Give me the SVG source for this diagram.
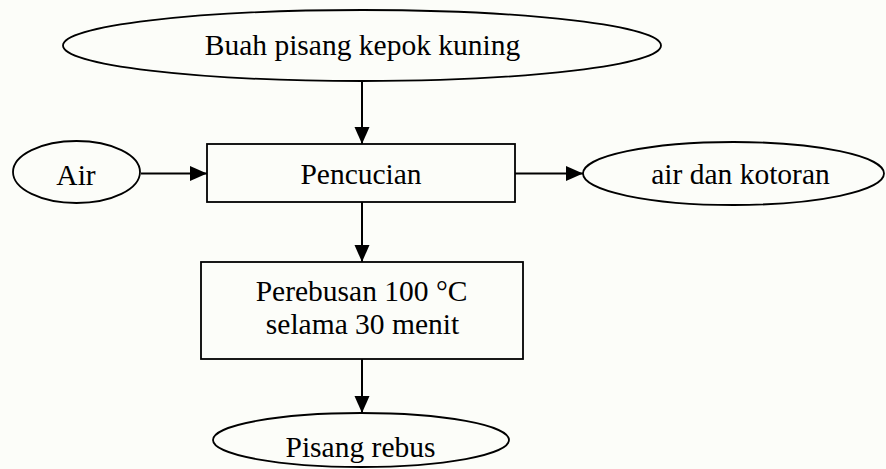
<svg xmlns="http://www.w3.org/2000/svg" width="886" height="469" viewBox="0 0 886 469">
<defs>
<marker id="ah" markerUnits="userSpaceOnUse" markerWidth="17" markerHeight="17" viewBox="0 0 17 17" refX="17" refY="8.5" orient="auto">
<path d="M0,1 L17,8.5 L0,16 Z" fill="#000"/>
</marker>
<style>
.shape{fill:none;stroke:#000;stroke-width:1.8}
.conn{fill:none;stroke:#000;stroke-width:2;marker-end:url(#ah)}
text{font-family:"Liberation Serif","Times New Roman",serif;font-size:29.5px;fill:#000;text-anchor:middle}
</style>
</defs>
<rect width="886" height="469" fill="#fcfdf9"/>
<g id="connectors">
<line class="conn" x1="362" y1="82" x2="362" y2="144"/>
<line class="conn" x1="141" y1="173.5" x2="207" y2="173.5"/>
<line class="conn" x1="515" y1="173.5" x2="583" y2="173.5"/>
<line class="conn" x1="362" y1="202" x2="362" y2="262"/>
<line class="conn" x1="362" y1="359" x2="362" y2="413"/>
</g>
<g id="buah">
<ellipse class="shape" cx="362" cy="45.5" rx="299" ry="35.5"/>
<text x="362.5" y="55">Buah pisang kepok kuning</text>
</g>
<g id="air">
<ellipse class="shape" cx="76.5" cy="172" rx="63.5" ry="31"/>
<text x="76" y="185">Air</text>
</g>
<g id="pencucian">
<rect class="shape" x="207" y="144" width="308" height="58"/>
<text x="361" y="184">Pencucian</text>
</g>
<g id="kotoran">
<ellipse class="shape" cx="733.5" cy="173.5" rx="150.5" ry="31.5"/>
<text x="740.5" y="184">air dan kotoran</text>
</g>
<g id="perebusan">
<rect class="shape" x="201" y="262" width="322" height="97"/>
<text x="361.5" y="301">Perebusan 100 °C</text>
<text x="362.5" y="334">selama 30 menit</text>
</g>
<g id="rebus">
<ellipse class="shape" cx="361" cy="440" rx="148" ry="27"/>
<text x="360.5" y="456.5">Pisang rebus</text>
</g>
</svg>
